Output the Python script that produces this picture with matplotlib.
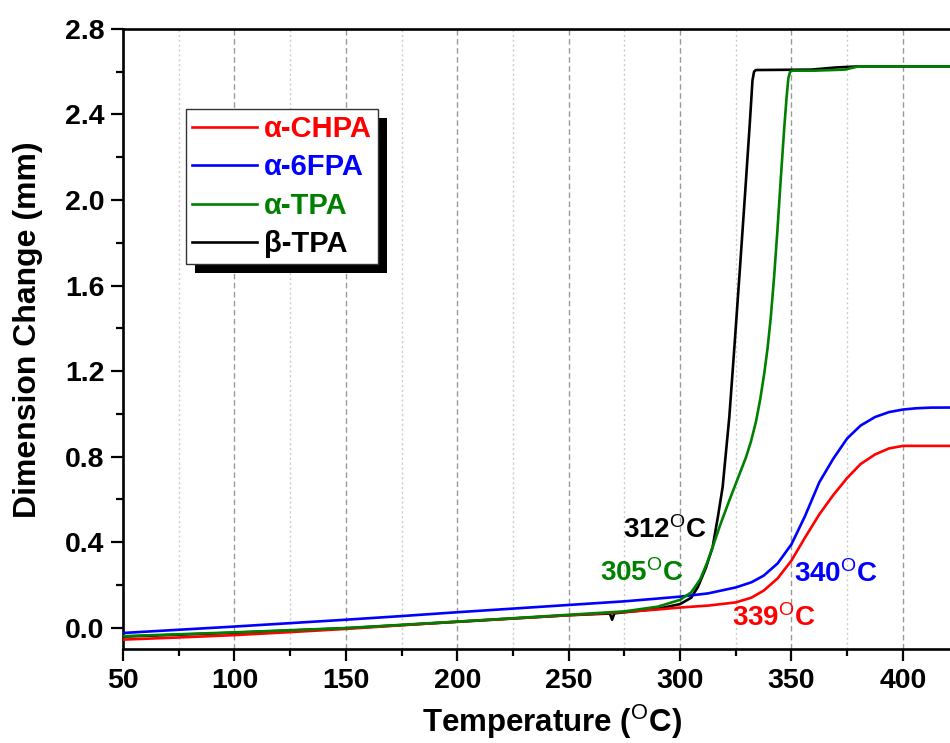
"""
Dimension change vs temperature (TMA) for the four polyimide films.
"""

import matplotlib
matplotlib.use("Agg")
import matplotlib.pyplot as plt
from matplotlib.patches import Rectangle
from matplotlib.transforms import IdentityTransform
from matplotlib.ticker import MultipleLocator

plt.rcParams['font.family'] = ['Liberation Sans', 'DejaVu Sans']
plt.rcParams['mathtext.fontset'] = 'custom'
plt.rcParams['mathtext.rm'] = 'Liberation Sans'
plt.rcParams['mathtext.bf'] = 'Liberation Sans:bold'
plt.rcParams['mathtext.it'] = 'Liberation Sans:italic'

# --- data (temperature in C, dimension change in mm) ---
t_chpa = [50, 75, 100, 125, 150, 175, 200, 225, 250, 275, 290, 300, 312.5, 325, 332,
          337.5, 343.75, 350, 356, 362.5, 368.75, 375, 381, 387.5, 393.75, 400, 435]
d_chpa = [-0.056, -0.046, -0.035, -0.021, -0.006, 0.011, 0.028, 0.043, 0.058, 0.073, 0.085,
          0.094, 0.103, 0.118, 0.140, 0.173, 0.230, 0.314, 0.420, 0.530, 0.620, 0.700, 0.765,
          0.810, 0.838, 0.850, 0.850]

t_6fpa = [50, 75, 100, 125, 150, 175, 200, 225, 250, 275, 290, 300, 312.5, 325, 332,
          337.5, 343.75, 350, 356, 362.5, 368.75, 375, 381, 387.5, 393.75, 400, 406,
          412.5, 435]
d_6fpa = [-0.025, -0.010, 0.005, 0.021, 0.037, 0.054, 0.072, 0.089, 0.106, 0.123, 0.136,
          0.145, 0.160, 0.188, 0.212, 0.243, 0.300, 0.390, 0.520, 0.680, 0.790, 0.885, 0.945,
          0.985, 1.008, 1.020, 1.026, 1.029, 1.030]

t_atpa = [50, 75, 100, 125, 150, 175, 200, 225, 250, 275, 290, 300, 305, 309, 312,
          314.6, 318, 322.1, 326, 329.6, 331.8, 334.1, 336, 337.8, 339.3, 340.7, 342.2,
          343.7, 345.2, 346.7, 347.8, 348.6, 349.4, 350.4, 360, 374, 380, 435]
d_atpa = [-0.040, -0.031, -0.022, -0.012, -0.002, 0.013, 0.028, 0.044, 0.060, 0.076, 0.098,
          0.130, 0.165, 0.225, 0.300, 0.376, 0.480, 0.595, 0.700, 0.797, 0.870, 0.965, 1.070,
          1.190, 1.310, 1.450, 1.640, 1.860, 2.100, 2.330, 2.480, 2.570, 2.600, 2.605, 2.605,
          2.610, 2.625, 2.625]

t_btpa = [50, 100, 150, 200, 250, 268.5, 269.5, 270.5, 290, 300, 305, 308, 311.6, 314.6,
          317, 319.1, 322.1, 324.5, 327, 329.5, 331.3, 332.5, 333.2, 334, 359, 370, 380, 435]
d_btpa = [-0.042, -0.024, -0.003, 0.027, 0.058, 0.066, 0.037, 0.067, 0.088, 0.110, 0.140,
          0.190, 0.280, 0.376, 0.520, 0.657, 0.985, 1.330, 1.700, 2.080, 2.360, 2.560, 2.600,
          2.608, 2.610, 2.620, 2.625, 2.625]

labels = ['α-CHPA', 'α-6FPA', 'α-TPA', 'β-TPA']
colors = ['#ff0000', '#0000ff', '#008000', '#000000']

# onset annotations: text, temperature, value (left / baseline of the label)
onset_text = ['312$^{\\mathrm{O}}$C', '305$^{\\mathrm{O}}$C',
              '340$^{\\mathrm{O}}$C', '339$^{\\mathrm{O}}$C']
onset_x = [274.6, 264.1, 351.2, 323.3]
onset_y = [0.42, 0.22, 0.212, 0.009]
onset_color = ['#000000', '#008000', '#0000ff', '#ff0000']

fig = plt.figure(figsize=(9.5, 7.43), dpi=100)
# axes runs past the right edge of the picture (original figure was cropped)
ax = fig.add_axes([0.1295, 0.1265, 0.903, 0.8345])

lw = 1.9
l_b, = ax.plot(t_btpa, d_btpa, color=colors[3], lw=lw, label=labels[3], zorder=3)
l_r, = ax.plot(t_chpa, d_chpa, color=colors[0], lw=lw, label=labels[0], zorder=3)
l_bl, = ax.plot(t_6fpa, d_6fpa, color=colors[1], lw=lw, label=labels[1], zorder=3)
l_g, = ax.plot(t_atpa, d_atpa, color=colors[2], lw=lw, label=labels[2], zorder=3)

ax.set_xlim(50, 435)
ax.set_ylim(-0.1, 2.8)

ax.xaxis.set_major_locator(MultipleLocator(50))
ax.xaxis.set_minor_locator(MultipleLocator(25))
ax.yaxis.set_major_locator(MultipleLocator(0.4))
ax.yaxis.set_minor_locator(MultipleLocator(0.2))
ax.yaxis.set_major_formatter(plt.FormatStrFormatter('%.1f'))

# vertical grid only: dashed at major, dotted at minor
ax.grid(True, axis='x', which='major', color='#999999', linestyle=(0, (4, 2.5)), linewidth=1.0)
ax.grid(True, axis='x', which='minor', color='#cccccc', linestyle=(0, (1.5, 2)), linewidth=1.0)
ax.set_axisbelow(True)

for side in ['left', 'bottom', 'top', 'right']:
    ax.spines[side].set_linewidth(1.9)

ax.tick_params(which='major', direction='out', length=8.5, width=1.6, pad=5,
               labelsize=20.5, top=False, right=False)
ax.tick_params(which='minor', direction='out', length=5, width=1.6, top=False, right=False)
for lab in ax.get_xticklabels() + ax.get_yticklabels():
    lab.set_fontweight('bold')

ax.set_xlabel('Temperature ($^{\\mathrm{O}}$C)', fontsize=22.5, fontweight='bold')
ax.set_ylabel('Dimension Change (mm)', fontsize=23, fontweight='bold')
ax.xaxis.set_label_coords(0.5, -0.086)
ax.yaxis.set_label_coords(-0.093, 0.5145)

for txt, x, y, c in zip(onset_text, onset_x, onset_y, onset_color):
    ax.text(x, y, txt, color=c, fontsize=20, fontweight='bold', ha='left', va='baseline', zorder=4)

leg = ax.legend(handles=[l_r, l_bl, l_g, l_b], loc='upper left',
                bbox_to_anchor=(0.0734, 0.871), borderaxespad=0, fancybox=False,
                framealpha=1, edgecolor='#333333', labelcolor='linecolor',
                prop={'weight': 'bold', 'size': 21}, handlelength=2.23,
                handletextpad=0.25, borderpad=0.2, labelspacing=0.36)
leg.get_frame().set_linewidth(1.0)
leg.set_zorder(6)

# hard black drop shadow behind the legend box
fig.canvas.draw()
bb = leg.get_window_extent()
shadow = Rectangle((bb.x0 + 9, bb.y0 - 9), bb.width, bb.height, transform=IdentityTransform(),
                   facecolor='black', edgecolor='none', zorder=5.9)
ax.add_artist(shadow)

fig.savefig('out.png', dpi=100)
